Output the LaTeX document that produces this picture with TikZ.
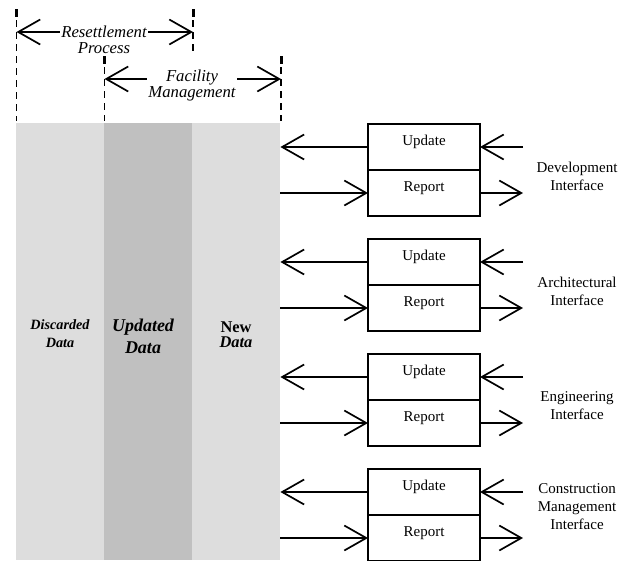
\documentclass[tikz,border=0pt]{standalone}
\usepackage{fontspec}
\setmainfont{Liberation Serif}
\usetikzlibrary{arrows.meta}
\definecolor{lightcol}{RGB}{221,221,221}
\definecolor{darkcol}{RGB}{192,192,192}
\begin{document}
\begin{tikzpicture}[x=1pt,y=-1pt,
  barbtip/.tip={Straight Barb[length=22pt,width=25pt,line width=1.7pt]},
  barb/.style={-barbtip, line width=1.7pt},
  barbboth/.style={barbtip-barbtip, line width=1.7pt},
  guide/.style={line width=1.2pt, dash pattern=on 7pt off 5pt},
  guidetick/.style={line width=3pt},
  colbox/.style={draw=none, inner sep=0pt, minimum width=88, minimum height=437, anchor=north west},
  toplabel/.style={fill=white, inner sep=1pt, align=center, font=\fontsize{16.7}{16}\selectfont\itshape},
  box/.style={draw, line width=1.9pt, outer sep=0pt, minimum width=112, minimum height=46, anchor=north,
    text height=10pt, text depth=13pt, font=\fontsize{15}{18}\selectfont},
  iflabel/.style={align=center, inner sep=0pt, font=\fontsize{15}{18}\selectfont},
]
\clip (0,0) rectangle (629,560);

% Data columns
\node[colbox, fill=lightcol] (discard) at (16,123) {};
\node[colbox, fill=darkcol]  (updated) at (104,123) {};
\node[colbox, fill=lightcol] (newcol)  at (192,123) {};

\node[align=center, inner sep=0pt, font=\fontsize{14.2}{18}\selectfont\bfseries\itshape] (discardlab) at (60,334) {Discarded\\Data};
\node[align=center, inner sep=0pt, font=\fontsize{18}{22}\selectfont\bfseries\itshape] (updatedlab) at (143,336) {Updated\\Data};
\node[align=center, inner sep=0pt, font=\fontsize{16.4}{15}\selectfont\bfseries\itshape] (newlab) at (236,335) {\textup{New}\\Data};

% Extent markers above the columns
\foreach \x/\ytop/\ybot in {16.5/9/121, 193/9/55, 104.5/56/121, 281/56/121} {
  \draw[guidetick] (\x,\ytop) -- (\x,\ytop+8);
  \draw[guide] (\x,\ytop+11) -- (\x,\ybot);
}

\coordinate (rs-l) at (16.5,32);
\coordinate (rs-r) at (193,32);
\draw[barbboth] (rs-l) -- (rs-r);
\node[toplabel] (rslab) at (104,40) {Resettlement\\Process};

\coordinate (fm-l) at (104.5,79);
\coordinate (fm-r) at (281,79);
\draw[barbboth] (fm-l) -- (fm-r);
\node[toplabel] (fmlab) at (192,85) {Facility\\Management};

% Interface groups
\foreach \i/\top/\dy/\txt in {1/124/52/{Development\\Interface},
                              2/239/52/{Architectural\\Interface},
                              3/354/52/{Engineering\\Interface},
                              4/469/38/{Construction\\Management\\Interface}} {
  \node[box] (u\i) at (424,\top) {Update};
  \node[box] (r\i) at (u\i.south) {Report};
  \node[iflabel] (lab\i) at (577,\top+\dy) {\txt};
  \coordinate (in\i)  at ([xshift=43pt]u\i.east);
  \coordinate (out\i) at ([xshift=43pt]r\i.east);
  \draw[barb] (u\i.west) -- (u\i.west -| newcol.east);
  \draw[barb] (r\i.west -| newcol.east) -- (r\i.west);
  \draw[barb] (in\i) -- (u\i.east);
  \draw[barb] (r\i.east) -- (out\i);
}
\end{tikzpicture}
\end{document}
